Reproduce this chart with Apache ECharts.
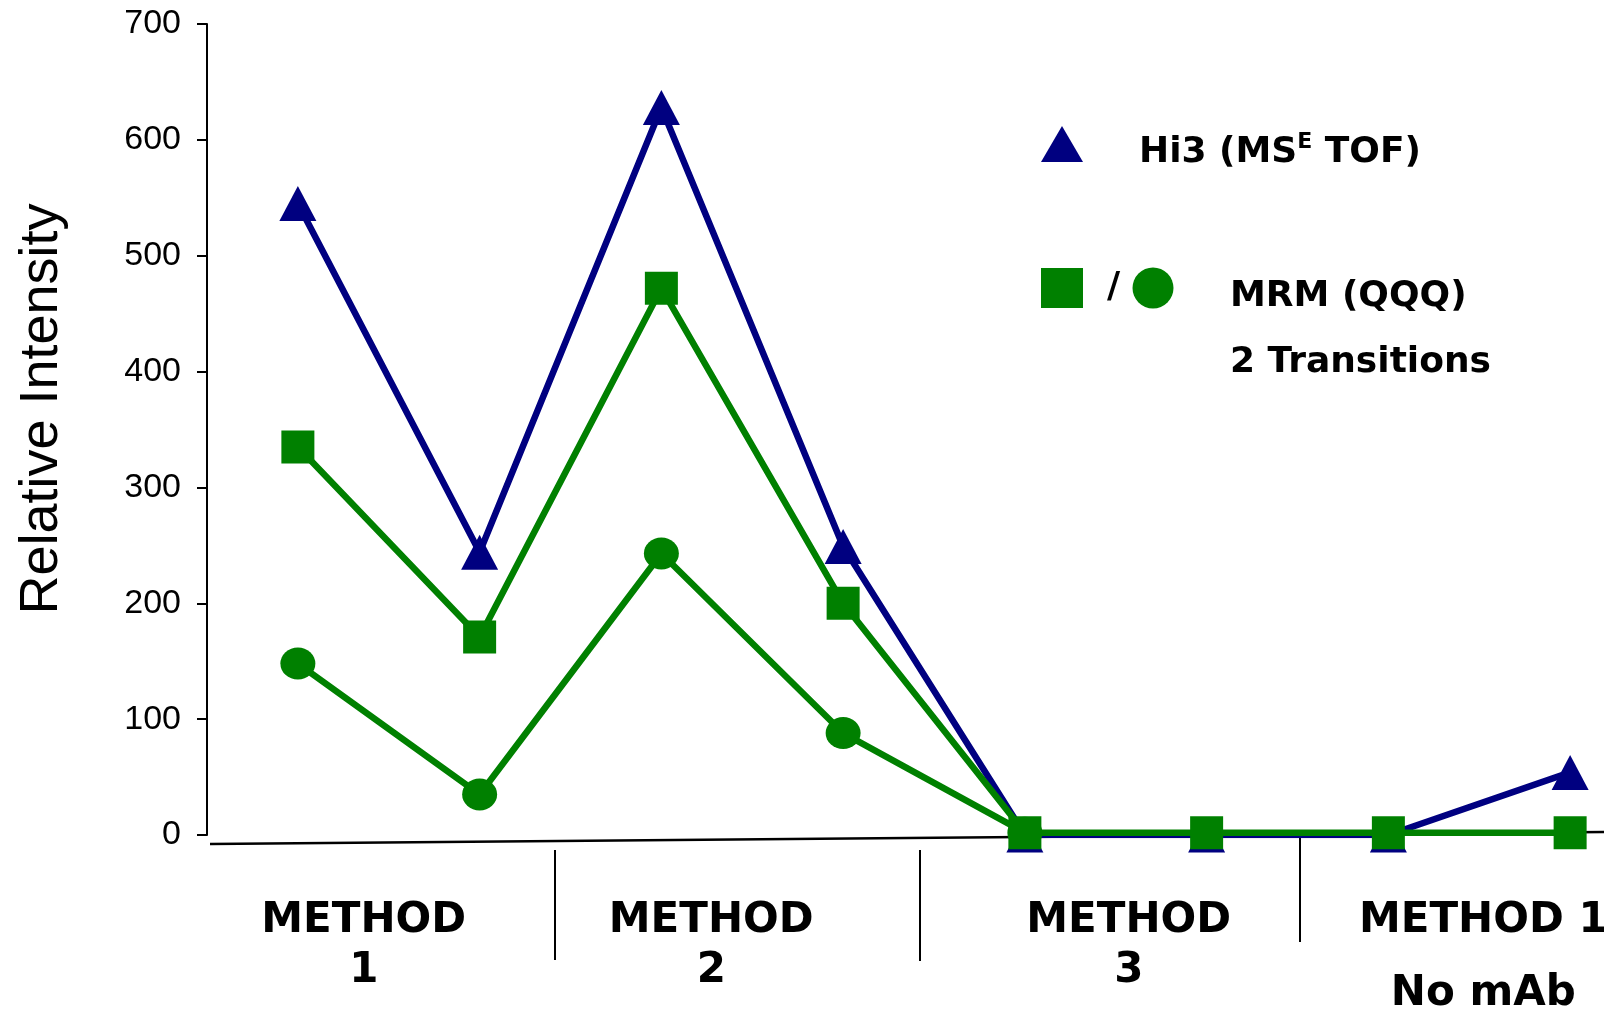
<!DOCTYPE html>
<html>
<head>
<meta charset="utf-8">
<title>Relative Intensity by Method</title>
<script src="https://cdn.jsdelivr.net/npm/echarts@6/dist/echarts.min.js"></script>
<style>
  html, body { margin: 0; padding: 0; background: #fff; }
  #chart { width: 1604px; height: 1010px; }
</style>
</head>
<body>
<div id="chart"></div>
<script>
// Samples: two per preparation method
const samples = ['M1-a', 'M1-b', 'M2-a', 'M2-b', 'M3-a', 'M3-b', 'M1-noAb-a', 'M1-noAb-b'];
// Method groups shown under the axis (two samples each)
const groups = ['METHOD\n1', 'METHOD\n2', 'METHOD\n3', 'METHOD 1\nNo mAb'];

// Hi3 quantitation (MS^E on TOF)
const hi3 = [545, 244, 628, 249, 0, 0, 0, 54];
// MRM on triple quad, transition 1 (squares) and transition 2 (circles)
const mrmT1 = [335, 171, 472, 200, 2, 2, 2, 2];
const mrmT2 = [148, 35, 243, 88, 2, null, null, null];

// Y axis ticks
const yTicks = { min: 0, max: 700, step: 100 };

const NAVY = '#000080';
const GREEN = '#008000';
const BOLD_FONT = '"DejaVu Sans", Verdana, sans-serif';
const PLAIN_FONT = '"Liberation Sans", Arial, sans-serif';

const chart = echarts.init(document.getElementById('chart'), null, { renderer: 'canvas' });

// Per-group label styles; horizontal padding nudges each label within its band
const groupPad = [[0, 50, 0, 0], [0, 82, 0, 0], [0, 0, 0, 26], [0, 0, 0, 8]];
const labelRich = {};
groupPad.forEach((p, i) => {
  labelRich['g' + i] = { fontFamily: BOLD_FONT, fontWeight: 'bold', fontSize: 42, color: '#000', lineHeight: 50, padding: p };
  labelRich['n' + i] = { fontFamily: BOLD_FONT, fontWeight: 'bold', fontSize: 42, color: '#000', lineHeight: i === 3 ? 96 : 50, padding: p };
});

const option = {
  animation: false,
  backgroundColor: '#fff',
  grid: { left: 207, top: 24, width: 1454, height: 811, outerBoundsMode: 'none', containLabel: false },
  xAxis: [
    {
      type: 'category',
      data: samples,
      boundaryGap: true,
      show: false
    },
    {
      type: 'category',
      data: groups,
      position: 'bottom',
      boundaryGap: true,
      axisLine: { show: false },
      axisTick: { show: false },
      splitLine: { show: false },
      axisLabel: {
        interval: 0,
        margin: 61,
        formatter: (value, idx) => {
          const lines = value.split('\n');
          return '{g' + idx + '|' + lines[0] + '}\n{n' + idx + '|' + lines[1] + '}';
        },
        rich: labelRich
      }
    }
  ],
  yAxis: {
    type: 'value',
    min: yTicks.min,
    max: yTicks.max,
    interval: yTicks.step,
    name: 'Relative Intensity',
    nameLocation: 'middle',
    nameRotate: 90,
    nameGap: 138,
    nameTextStyle: {
      fontFamily: PLAIN_FONT,
      fontSize: 54,
      color: '#000',
      padding: [0, 0, 0, 41]
    },
    axisLine: { show: true, lineStyle: { color: '#000', width: 2 } },
    axisTick: { show: true, inside: false, length: 10, lineStyle: { color: '#000', width: 2 } },
    axisLabel: { fontFamily: PLAIN_FONT, fontSize: 34, color: '#000', margin: 26 },
    splitLine: { show: false }
  },
  series: [
    {
      name: 'Hi3 (MSE TOF)',
      type: 'line',
      data: hi3,
      symbol: 'triangle',
      symbolSize: [37, 35],
      showAllSymbol: true,
      itemStyle: { color: NAVY },
      lineStyle: { color: NAVY, width: 6.5 },
      z: 2
    },
    {
      name: 'MRM (QQQ) transition 2',
      type: 'line',
      data: mrmT2,
      symbol: 'circle',
      symbolSize: [35, 32],
      showAllSymbol: true,
      connectNulls: false,
      itemStyle: { color: GREEN },
      lineStyle: { color: GREEN, width: 6.5 },
      z: 3
    },
    {
      name: 'MRM (QQQ) transition 1',
      type: 'line',
      data: mrmT1,
      symbol: 'rect',
      symbolSize: 33,
      showAllSymbol: true,
      itemStyle: { color: GREEN },
      lineStyle: { color: GREEN, width: 6.5 },
      z: 4
    }
  ],
  graphic: [
    // baseline under the plot
    { type: 'line', shape: { x1: 210, y1: 844, x2: 1604, y2: 832 }, style: { stroke: '#000', lineWidth: 2.5 }, silent: true },
    // group dividers
    { type: 'line', shape: { x1: 555, y1: 850, x2: 555, y2: 960 }, style: { stroke: '#000', lineWidth: 2 }, silent: true },
    { type: 'line', shape: { x1: 920, y1: 850, x2: 920, y2: 961 }, style: { stroke: '#000', lineWidth: 2 }, silent: true },
    { type: 'line', shape: { x1: 1300, y1: 835, x2: 1300, y2: 942 }, style: { stroke: '#000', lineWidth: 2 }, silent: true },
    // key: Hi3
    { type: 'polygon', shape: { points: [[1062, 126], [1041, 162], [1083, 162]] }, style: { fill: NAVY }, silent: true },
    {
      type: 'text', left: 1139, top: 131, silent: true,
      style: {
        text: '{a|Hi3 (MS}{s|E}{a| TOF)}',
        rich: {
          a: { fontFamily: BOLD_FONT, fontWeight: 'bold', fontSize: 36, lineHeight: 44, fill: '#000' },
          s: { fontFamily: BOLD_FONT, fontWeight: 'bold', fontSize: 22, lineHeight: 30, verticalAlign: 'top', fill: '#000' }
        }
      }
    },
    // key: MRM
    { type: 'rect', shape: { x: 1041, y: 268, width: 42, height: 40 }, style: { fill: GREEN }, silent: true },
    {
      type: 'text', left: 1107, top: 270, silent: true,
      style: { text: '/', fontFamily: BOLD_FONT, fontWeight: 'bold', fontSize: 36, fill: '#000' }
    },
    { type: 'circle', shape: { cx: 1153, cy: 288, r: 20.5 }, style: { fill: GREEN }, silent: true },
    {
      type: 'text', left: 1230, top: 279, silent: true,
      style: { text: 'MRM (QQQ)', fontFamily: BOLD_FONT, fontWeight: 'bold', fontSize: 36, fill: '#000' }
    },
    {
      type: 'text', left: 1230, top: 345, silent: true,
      style: { text: '2 Transitions', fontFamily: BOLD_FONT, fontWeight: 'bold', fontSize: 36, fill: '#000' }
    }
  ]
};

chart.setOption(option);
</script>
</body>
</html>
